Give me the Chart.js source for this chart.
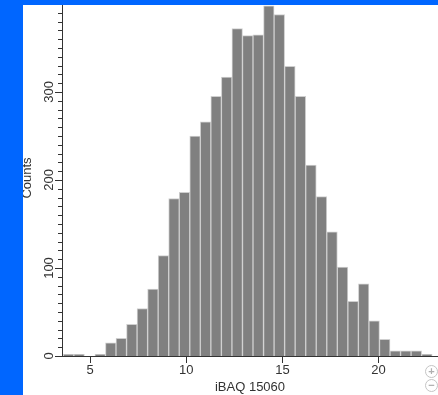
<!DOCTYPE html>
<html>
<head>
<meta charset="utf-8">
<script src="https://cdn.jsdelivr.net/npm/chart.js@4/dist/chart.umd.min.js"></script>
<style>
  html, body { margin: 0; padding: 0; background: #ffffff; overflow: hidden; }
  #wrap { position: relative; width: 438px; height: 395px; }
  #c { position: absolute; left: 0; top: 0; }
  .blueL { position: absolute; left: 0; top: 0; width: 23px; height: 395px; background: #0066ff; }
  .blueT { position: absolute; left: 0; top: 0; width: 438px; height: 5px; background: #0066ff; }
  .icon { position: absolute; width: 11px; height: 11px; border: 1.5px solid #c4c4c4; border-radius: 50%;
          font: bold 11px/11px "Liberation Sans", Arial, sans-serif; color: #b0b0b0; text-align: center; background: #fff; }
</style>
</head>
<body>
<div id="wrap">
  <canvas id="c" width="438" height="395"></canvas>
  <div class="blueL"></div>
  <div class="blueT"></div>
  <div class="icon" style="left:425px; top:365px;">+</div>
  <div class="icon" style="left:425px; top:379px;">−</div>
</div>
<script>
// Histogram bin centres (iBAQ 15060) and counts
const binCenters = [3.881, 4.429, 4.977, 5.525, 6.073, 6.621, 7.169, 7.717, 8.265, 8.813,
                    9.361, 9.909, 10.457, 11.005, 11.553, 12.101, 12.649, 13.197, 13.745, 14.293,
                    14.841, 15.389, 15.937, 16.485, 17.033, 17.581, 18.129, 18.677, 19.225, 19.773,
                    20.321, 20.869, 21.417, 21.965, 22.513];
const counts = [2, 2, 0, 2, 15, 20, 36, 54, 76, 114,
                179, 186, 250, 266, 295, 317, 372, 364, 365, 398,
                388, 329, 295, 217, 181, 141, 101, 62, 82, 40,
                19, 6, 6, 6, 2];
const xTickValues = [5, 10, 15, 20];
const yMajorTicks = [0, 100, 200, 300];
const xTitle = "iBAQ 15060";
const yTitle = "Counts";

const points = binCenters.map((x, i) => ({ x: x, y: counts[i] }));
const FONT = '"Liberation Sans", Arial, sans-serif';

const yTickPlugin = {
  id: 'yTicks',
  afterDraw(chart) {
    const ys = chart.scales.y;
    const ctx = chart.ctx;
    const left = chart.chartArea.left;
    ctx.save();
    ctx.strokeStyle = '#333';
    ctx.lineWidth = 1;
    for (let v = 0; v <= 400; v += 10) {
      const py = Math.round(ys.getPixelForValue(v)) + 0.5;
      const major = yMajorTicks.includes(v);
      ctx.beginPath();
      ctx.moveTo(left - (major ? 7 : 4), py);
      ctx.lineTo(left, py);
      ctx.stroke();
    }
    ctx.fillStyle = '#333';
    ctx.font = '13px ' + FONT;
    ctx.textAlign = 'center';
    ctx.textBaseline = 'middle';
    yMajorTicks.forEach(v => {
      const py = ys.getPixelForValue(v);
      ctx.save();
      ctx.translate(49, py);
      ctx.rotate(-Math.PI / 2);
      ctx.fillText(String(v), 0, 0);
      ctx.restore();
    });
    ctx.restore();
  }
};

new Chart(document.getElementById('c'), {
  type: 'bar',
  data: {
    datasets: [{
      data: points,
      backgroundColor: '#808080',
      borderColor: '#cfcfcf',
      borderWidth: 1,
      barPercentage: 1,
      categoryPercentage: 1
    }]
  },
  options: {
    responsive: false,
    animation: false,
    devicePixelRatio: 1,
    layout: { padding: 0 },
    plugins: { legend: { display: false }, tooltip: { enabled: false } },
    scales: {
      x: {
        type: 'linear',
        offset: false,
        min: 3.539,
        max: 23.09,
        afterFit(s) { s.height = 39; },
        afterBuildTicks(s) { s.ticks = xTickValues.map(v => ({ value: v })); },
        ticks: { includeBounds: false, color: '#333', font: { size: 13, family: FONT }, padding: 0, maxRotation: 0 },
        grid: { display: true, offset: false, drawOnChartArea: false, drawTicks: true, tickLength: 7, color: '#333', tickColor: '#333' },
        border: { display: true, color: '#333', width: 1 },
        title: { display: true, text: xTitle, color: '#333', font: { size: 13, family: FONT }, padding: { top: 0, bottom: 0 } }
      },
      y: {
        min: 0,
        max: 404.5,
        afterFit(s) { s.width = 62; },
        ticks: { display: false, stepSize: 10 },
        grid: { display: false },
        border: { display: true, color: '#333', width: 1 },
        title: { display: true, text: yTitle, color: '#333', font: { size: 13, family: FONT }, padding: { top: 20, bottom: 0 } }
      }
    }
  },
  plugins: [yTickPlugin]
});
</script>
</body>
</html>
